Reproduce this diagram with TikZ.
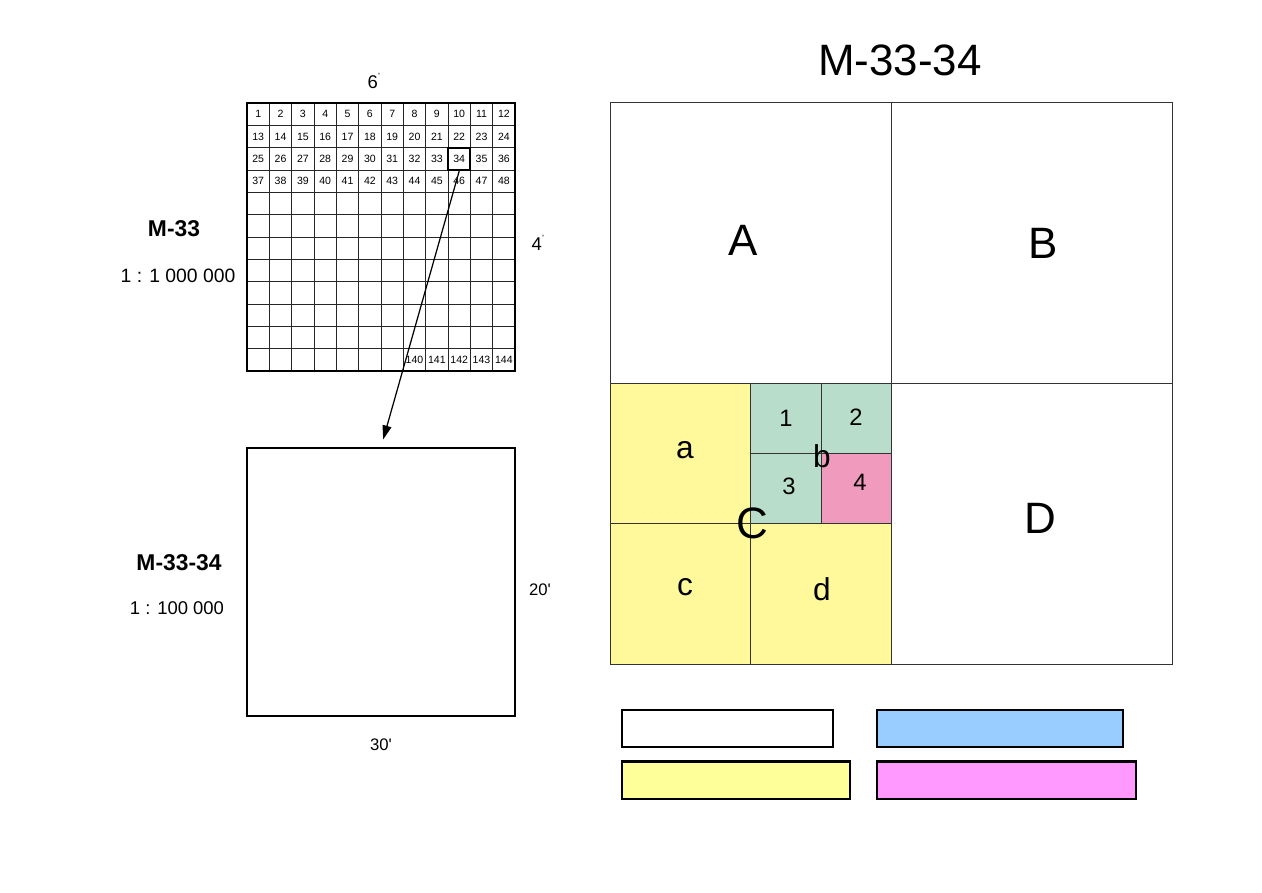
\documentclass[tikz,border=0pt]{standalone}
\usepackage{fontspec}
\setmainfont{Liberation Sans}
\usetikzlibrary{arrows.meta}

\definecolor{zoneyellow}{RGB}{255,249,155}
\definecolor{zonegreen}{RGB}{184,222,203}
\definecolor{zonepink}{RGB}{240,155,190}
\definecolor{legblue}{RGB}{153,204,255}
\definecolor{legyellow}{RGB}{255,255,153}
\definecolor{legpink}{RGB}{255,153,255}

\newcommand{\degmark}{\raisebox{1.1ex}{\fontsize{3.5}{4}\selectfont °}}

\tikzset{
  num/.style={font=\fontsize{6}{7}\selectfont, inner sep=0pt},
  sheet/.style={draw, line width=1pt, inner sep=0pt, minimum width=5.36cm, minimum height=5.36cm},
  zone/.style={draw=black!80, line width=0.5pt, inner sep=0pt},
  bigzone/.style={zone, minimum width=5.62cm, minimum height=5.62cm},
  midzone/.style={zone, fill=zoneyellow, minimum width=2.81cm, minimum height=2.81cm},
  smallzone/.style={zone, fill=zonegreen, minimum width=1.405cm, minimum height=1.405cm},
  legbox/.style={draw, line width=0.8pt, inner sep=0pt, minimum height=0.74cm}
}

\begin{document}
\begin{tikzpicture}[x=0.02cm, y=-0.02cm]
\useasboundingbox (0,0) rectangle (1262,893);

% sheet 1 : 1 000 000
\foreach \i in {1,...,11} {
  \draw[line width=0.5pt, black!85] (247+\i*22.333,103) -- (247+\i*22.333,371);
  \draw[line width=0.5pt, black!85] (247,103+\i*22.333) -- (515,103+\i*22.333);
}
\node[sheet, line width=1.2pt] (sheet1m) at (381,237) {};

\foreach \n in {1,...,33,35,36,...,48} {
  \pgfmathtruncatemacro\col{mod(\n-1,12)}
  \pgfmathtruncatemacro\row{(\n-1)/12}
  \node[num] (c\n) at (258.2+\col*22.333, 114.2+\row*22.333) {\n};
}
\node[num, draw, line width=1.2pt, minimum size=0.4467cm] (c34) at (459.2,158.9) {34};
\foreach \n [count=\k from 7] in {140,...,144}
  \node[num] (c\n) at (258.2+\k*22.333, 359.9) {\n};

\node (deg6) at (374,81) {\fontsize{10.5}{12}\selectfont 6\degmark};
\node (deg4) at (538,243) {\fontsize{10.5}{12}\selectfont 4\degmark};
\node[font=\fontsize{13}{15}\selectfont\bfseries] (name1m) at (174,229) {M-33};
\node[font=\fontsize{11}{13}\selectfont] (scale1m) at (178,276) {1 : 1 000 000};

% sheet 1 : 100 000
\node[sheet] (sheet100k) at (381,582) {};
\node[font=\fontsize{9.5}{11}\selectfont] (min20) at (540,590) {20\textquotesingle};
\node[font=\fontsize{9.5}{11}\selectfont] (min30) at (381,745) {30\textquotesingle};
\node[font=\fontsize{13}{15}\selectfont\bfseries] (name100k) at (179,563) {M-33-34};
\node[font=\fontsize{10.5}{12}\selectfont] (scale100k) at (177,608) {1 : 100 000};

\draw[line width=0.7pt, -{Triangle[length=2.8mm,width=1.8mm]}, shorten >=0.16cm] (c34.south) -- (sheet100k.north);

% M-33-34 split
\node[font=\fontsize{25}{28}\selectfont] (title) at (900,60) {M-33-34};
\node[bigzone] (qA) at (750.5,242.5) {};
\node[bigzone] (qB) at (1031.5,242.5) {};
\node[bigzone] (qD) at (1031.5,523.5) {};
\node[midzone] (za) at (680.25,453.25) {};
\node[midzone] (zc) at (680.25,593.75) {};
\node[midzone] (zd) at (820.75,593.75) {};
\node[smallzone] (z1) at (785.875,418.125) {};
\node[smallzone] (z2) at (856.125,418.125) {};
\node[smallzone] (z3) at (785.875,488.375) {};
\node[smallzone, fill=zonepink] (z4) at (856.125,488.375) {};

\node[font=\fontsize{25}{28}\selectfont] (labA) at (743,240) {A};
\node[font=\fontsize{25}{28}\selectfont] (labB) at (1043,243) {B};
\node[font=\fontsize{25}{28}\selectfont] (labC) at (752,523) {C};
\node[font=\fontsize{25}{28}\selectfont] (labD) at (1040,518) {D};
\node[font=\fontsize{18}{20}\selectfont] (laba) at (685,450) {a};
\node[font=\fontsize{18}{20}\selectfont] (labb) at (822,456) {b};
\node[font=\fontsize{18}{20}\selectfont] (labc) at (685,587) {c};
\node[font=\fontsize{18}{20}\selectfont] (labd) at (822,589) {d};
\node[font=\fontsize{13.5}{15}\selectfont] (lab1) at (786,418) {1};
\node[font=\fontsize{13.5}{15}\selectfont] (lab2) at (856,417) {2};
\node[font=\fontsize{13.5}{15}\selectfont] (lab3) at (789,486) {3};
\node[font=\fontsize{13.5}{15}\selectfont] (lab4) at (860,482) {4};

% legend
\node[legbox, minimum width=4.22cm] (leg1) at (727.5,728.5) {};
\node[legbox, fill=legblue, minimum width=4.92cm] (leg2) at (1000,728.5) {};
\node[legbox, fill=legyellow, minimum width=4.56cm] (leg3) at (736,780.5) {};
\node[legbox, fill=legpink, minimum width=5.18cm] (leg4) at (1006.5,780.5) {};
\draw[line width=1.6pt] (leg3.north west) -- (leg3.north east);
\draw[line width=1.6pt] (leg4.north west) -- (leg4.north east);
\end{tikzpicture}
\end{document}
